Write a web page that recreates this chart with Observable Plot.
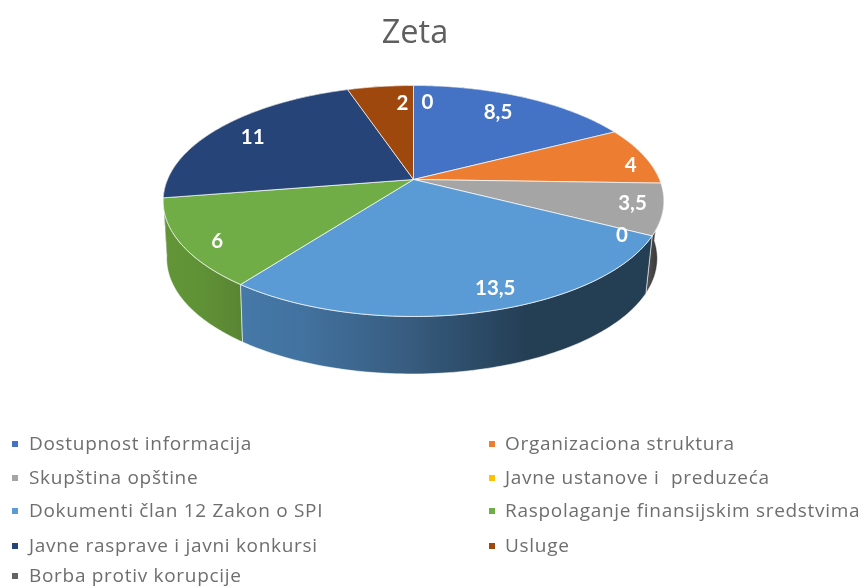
<!DOCTYPE html>
<html><head><meta charset="utf-8">
<script src="https://cdn.jsdelivr.net/npm/d3@7"></script>
<script src="https://cdn.jsdelivr.net/npm/@observablehq/plot@0.6"></script>
<style>
html,body{margin:0;padding:0;background:#fff;overflow:hidden;width:864px;height:588px}
#wrap{position:relative;width:864px;height:588px;filter:blur(.5px)}
#title{height:62px;text-align:center;font:32.5px "Open Sans",sans-serif;color:#5f5f5f;line-height:62px;position:relative;left:-17px}
svg{display:block;background:transparent}
.lg{position:absolute;font:19px "Open Sans",sans-serif;letter-spacing:.7px;color:#6e6e6e;white-space:pre;line-height:20px}
.sw{position:absolute;width:6px;height:6px}
</style></head><body>
<div id="wrap"><div id="title">Zeta</div><div id="chart"></div></div>
<script>
const categories = ["Dostupnost informacija","Organizaciona struktura","Skupština opštine","Javne ustanove i  preduzeća","Dokumenti član 12 Zakon o SPI","Raspolaganje finansijskim sredstvima","Javne rasprave i javni konkursi","Usluge","Borba protiv korupcije"];
const values = [8.5,4,3.5,0,13.5,6,11,2.5,0];
const valueLabels = ["8,5","4","3,5","0","13,5","6","11","2","0"];
const colors = ["#4472C4","#ED7D31","#A5A5A5","#FFC000","#5B9BD5","#70AD47","#264478","#9E480E","#636363"];
const labelNudge = [[-8,2],[27,6],[16,0],[16,10],[29,4],[-9,10],[-1,2],[17,2],[14,2]];
const sideStops = {
  2:[["0%","#555"],["60%","#3a3a3a"],["100%","#333"]],
  4:[["0%","#4579a8"],["15%","#42729f"],["40%","#385d80"],["58%","#2b4a66"],["70%","#243e54"],["100%","#243e54"]],
  5:[["0%","#639538"],["50%","#5f9136"],["100%","#598532"]]
};

// Perspective view of the pie disc
const hub = {x:413, y:179}, A = 246, B = 111.5, P = 0.186;
const depth = 57.5, shrinkX = 0.98, bottomShiftX = -1.5;
const project = (deg, r = 1, bottom = false) => {
  const t = deg * Math.PI / 180, u = r * Math.sin(t), v = -r * Math.cos(t);
  const d = 1 - P * v;
  return {x: hub.x + (bottom ? bottomShiftX : 0) + A * (bottom ? shrinkX : 1) * u / d, y: hub.y + (bottom ? depth : 0) + B * v / d};
};
const total = d3.sum(values);
let acc = 0;
const slices = categories.map((name,i)=>{
  const a0 = acc / total * 360; acc += values[i];
  return {i, name, a0, a1: acc / total * 360, mid:(a0 + acc / total * 360)/2};
});
const arc = (a0,a1,bottom) => {
  const n = Math.max(2, Math.ceil(a1 - a0));
  return d3.range(n + 1).map(k => project(a0 + (a1 - a0) * k / n, 1, bottom));
};
const visible = slices.filter(s => s.a1 > s.a0);
const topPoly = s => { const c = project(0,0); return [c, ...arc(s.a0,s.a1,false), c].map(p=>({...p,name:s.name})); };
const sidePoly = s => { const a = arc(s.a0,s.a1,false), b = arc(s.a0,s.a1,true).reverse(); return [...a,...b,a[0]]; };

const defs = () => {
  const d = d3.create("svg:defs");
  for (const k in sideStops) {
    const g = d.append("linearGradient").attr("id","side"+k);
    for (const [o,c] of sideStops[k]) g.append("stop").attr("offset",o).attr("stop-color",c);
  }
  return d.node();
};
const sideOrder = visible.slice().sort((a,b)=>-Math.cos(a.mid*Math.PI/180)+Math.cos(b.mid*Math.PI/180));
const sideMarks = sideOrder.map(s => Plot.line(sidePoly(s), {
  x:"x", y:"y",
  fill: sideStops[s.i] ? `url(#side${s.i})` : d3.color(colors[s.i]).darker(1.2).formatHex(),
  stroke: "#fff", strokeOpacity: sideStops[s.i] ? .55 : 0, strokeWidth: 1
}));
const labels = slices.map(s => {
  const p = project(s.mid, .82);
  return {x:p.x + labelNudge[s.i][0], y:p.y + labelNudge[s.i][1], text:valueLabels[s.i]};
});

const plot = Plot.plot({
  width:864, height:340, margin:0,
  x:{domain:[0,864], range:[0,864], axis:null},
  y:{domain:[62,402], range:[0,340], axis:null},
  color:{domain:categories, range:colors},
  style:{background:"transparent"},
  marks:[
    defs,
    ...sideMarks,
    ...visible.map(s => Plot.line(topPoly(s), {x:"x", y:"y", fill:"name", stroke:"#fff", strokeOpacity:.7, strokeWidth:1})),
    Plot.text(labels, {x:"x", y:"y", text:"text", fill:"#fff", fontSize:20.5, fontWeight:700, fontFamily:"Lato, sans-serif"})
  ]
});
document.getElementById("chart").appendChild(plot);

const wrap = document.getElementById("wrap");
const rowY = [444,478,511,546,576];
categories.forEach((name,i)=>{
  const col = i % 2, row = Math.floor(i/2);
  const sw = document.createElement("div"); sw.className="sw";
  sw.style.left = (col ? 489 : 12) + "px"; sw.style.top = (rowY[row]-3) + "px"; sw.style.background = colors[i];
  const t = document.createElement("div"); t.className="lg"; t.textContent = name;
  t.style.left = (col ? 505 : 29) + "px"; t.style.top = (rowY[row]-11) + "px";
  wrap.append(sw,t);
});
</script>
</body></html>
